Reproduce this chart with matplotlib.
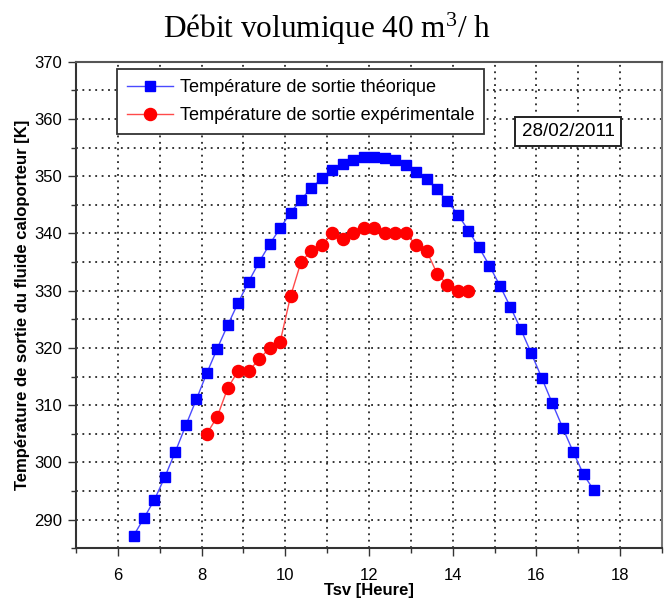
import matplotlib
matplotlib.use("Agg")
import matplotlib.pyplot as plt
from matplotlib.ticker import MultipleLocator

plt.rcParams['font.family'] = ['Liberation Sans', 'DejaVu Sans']
plt.rcParams['mathtext.fontset'] = 'custom'
plt.rcParams['mathtext.rm'] = 'Liberation Serif'

# Theoretical outlet temperature (K) vs solar time (h)
t_theo = [6.375, 6.625, 6.875, 7.125, 7.375, 7.625, 7.875, 8.125, 8.375, 8.625,
          8.875, 9.125, 9.375, 9.625, 9.875, 10.125, 10.375, 10.625, 10.875, 11.125,
          11.375, 11.625, 11.875, 12.125, 12.375, 12.625, 12.875, 13.125, 13.375, 13.625,
          13.875, 14.125, 14.375, 14.625, 14.875, 15.125, 15.375, 15.625, 15.875, 16.125,
          16.375, 16.625, 16.875, 17.125, 17.375]
T_theo = [287.2, 290.3, 293.5, 297.5, 301.9, 306.5, 311.0, 315.6, 319.9, 324.0,
          327.9, 331.6, 335.0, 338.1, 340.9, 343.6, 345.9, 348.0, 349.6, 351.1,
          352.1, 352.9, 353.4, 353.4, 353.1, 352.8, 352.0, 350.8, 349.5, 347.7,
          345.6, 343.3, 340.5, 337.6, 334.4, 330.9, 327.2, 323.3, 319.1, 314.8,
          310.4, 306.1, 301.9, 297.9, 295.1]

# Measured outlet temperature (K)
t_exp = [8.125, 8.375, 8.625, 8.875, 9.125, 9.375, 9.625, 9.875, 10.125, 10.375,
         10.625, 10.875, 11.125, 11.375, 11.625, 11.875, 12.125, 12.375, 12.625, 12.875,
         13.125, 13.375, 13.625, 13.875, 14.125, 14.375]
T_exp = [305, 308, 313, 316, 316, 318, 320, 321, 329, 335,
         337, 338, 340, 339, 340, 341, 341, 340, 340, 340,
         338, 337, 333, 331, 330, 330]

label_theo = "Température de sortie théorique"
label_exp = "Température de sortie expérimentale"

fig = plt.figure(figsize=(6.65, 6.02), dpi=100)
ax = fig.add_axes([0.1143, 0.0892, 0.8812, 0.8083])

ax.plot(t_theo, T_theo, color='#4a4aff', lw=1.0, marker='s', ms=7.0,
        mfc='#0000ff', mec='#0000ff', label=label_theo, zorder=3)
ax.plot(t_exp, T_exp, color='#ff4a4a', lw=1.0, marker='o', ms=8.7,
        mfc='#ff0000', mec='#ff0000', label=label_exp, zorder=3)

ax.set_xlim(5, 19)
ax.set_ylim(285, 370)
ax.xaxis.set_major_locator(MultipleLocator(2))
ax.xaxis.set_minor_locator(MultipleLocator(1))
ax.yaxis.set_major_locator(MultipleLocator(10))
ax.yaxis.set_minor_locator(MultipleLocator(5))
ax.grid(which='both', color='black', linestyle=(0, (1.2, 3.0)), linewidth=1.1)
ax.tick_params(which='major', length=6, width=1, direction='out', labelsize=12,
               colors='#333333', labelcolor='black')
ax.tick_params(axis='x', which='major', pad=8)
ax.tick_params(axis='y', which='major', pad=4)
ax.tick_params(which='minor', length=3.5, width=1, direction='out', colors='#333333')
for s in ax.spines.values():
    s.set_linewidth(1.5)
    s.set_color('#333333')
ax.spines['top'].set_color('#555555')
ax.spines['right'].set_color('#777777')

ax.set_xlabel("Tsv [Heure]", fontsize=12, fontweight='bold', labelpad=0)
ax.set_ylabel("Température de sortie du fluide caloporteur [K]", fontsize=12,
              fontweight='bold', labelpad=3)

leg = ax.legend(loc='upper left', bbox_to_anchor=(0.07, 0.985), borderaxespad=0,
                fontsize=13.1, frameon=True, fancybox=False, framealpha=1,
                edgecolor='#333333', handlelength=2.5, handletextpad=0.4,
                borderpad=0.55, labelspacing=0.62)
leg.get_frame().set_linewidth(1.3)

ax.text(0.8396, 0.8566, "28/02/2011", transform=ax.transAxes, ha='center', va='center',
        fontsize=13.5, zorder=5,
        bbox=dict(boxstyle='square,pad=0.33', fc='white', ec='#222222', lw=1.4))

fig.text(0.492, 0.952, "Débit volumique 40 m$\\mathregular{^{3}}$/ h", ha='center',
         va='center', fontsize=22.5, family='Liberation Serif')

fig.savefig("out.png", dpi=100)
